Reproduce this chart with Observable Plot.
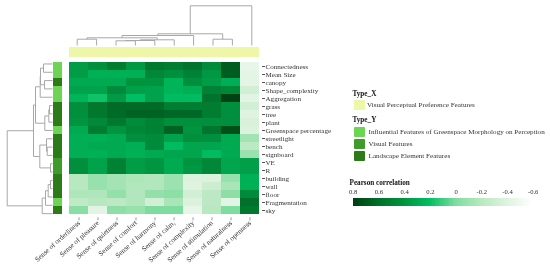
<!DOCTYPE html>
<html>
<head>
<meta charset="utf-8">
<script src="https://cdn.jsdelivr.net/npm/d3@7"></script>
<script src="https://cdn.jsdelivr.net/npm/@observablehq/plot@0.6"></script>
<style>
html,body{margin:0;padding:0;background:#fff}
#chart{position:relative;width:550px;height:268px;overflow:hidden;font-family:"Liberation Serif",serif;color:#333;filter:blur(.35px)}
#chart svg{position:absolute;left:0;top:0;background:transparent;max-width:none}
.lg{position:absolute;white-space:nowrap;font-size:7.1px;line-height:10px}
.lt{font-weight:bold;color:#111;font-size:7.2px}
.sw{position:absolute;width:11px;height:10.4px;border-radius:1px}
</style>
</head>
<body>
<div id="chart"></div>
<script>
const columns = ["Sense of orderliness","Sense of pleasure","Sense of quietness","Sense of comfort","Sense of harmony","Sense of calm,","Sense of complexity","Sense of stimulation","Sense of naturalness","Sense of openness"];
const rows = ["Connectedness","Mean Size","canopy","Shape_complexity","Aggregation","grass","tree","plant","Greenspace percentage","streetlight","bench","signboard","VE","R","building","wall","floor","Fragmentation","sky"];
const values = [
 [.36,.43,.53,.38,.55,.53,.58,.45,.68,-.45],
 [.36,.27,.27,.27,.47,.43,.50,.38,.68,-.43],
 [.30,.30,.30,.40,.40,.25,.43,.36,.28,-.43],
 [.33,.33,.45,.35,.33,.25,.28,.50,.47,-.33],
 [.25,.18,.37,.20,.33,.22,.22,.58,.78,-.42],
 [.42,.55,.62,.62,.62,.52,.52,.53,.42,-.33],
 [.42,.55,.62,.65,.65,.63,.63,.53,.42,-.40],
 [.40,.46,.55,.45,.50,.43,.43,.42,.42,-.37],
 [.30,.53,.40,.48,.50,.65,.40,.57,.73,-.38],
 [.28,.28,.30,.42,.45,.33,.42,.42,.30,-.12],
 [.28,.30,.30,.28,.45,.22,.32,.32,.30,-.22],
 [.28,.27,.30,.27,.30,.32,.32,.22,.30,-.10],
 [.43,.33,.50,.36,.39,.30,.40,.47,.32,.35],
 [.43,.33,.50,.36,.39,.30,.38,.47,.32,.35],
 [-.20,-.08,-.13,-.16,-.18,-.10,-.38,-.38,-.08,.27],
 [-.20,-.08,-.13,-.18,-.18,-.10,-.40,-.30,-.15,.27],
 [-.16,-.17,-.07,-.18,-.07,-.05,-.33,-.22,-.05,.45],
 [-.23,-.20,-.22,-.18,-.33,-.15,-.38,-.22,-.42,.60],
 [-.03,-.42,-.05,-.08,0,0,-.45,-.20,0,.55]
];
const typeNames = ["Influential Features of Greenspace Morphology on Perception","Visual Features","Landscape Element Features"];
const typeColors = ["#6dd454","#3f9b2a","#2c7a18"];
const rowTypes = [0,0,2,0,0,2,2,2,0,2,2,2,1,1,2,2,2,0,2];
const typeXName = "Visual Perceptual Preference Features";
const typeXColor = "#eef7a8";
const colorDomain = [-.6,-.4,-.2,0,.2,.4,.6,.8];
const colorRange = ["#ffffff","#dff3e0","#b8e8c0","#7fdc9f","#00bf63","#00943f","#00702a","#003d10"];
const legendTicks = [.8,.6,.4,.2,0,-.2,-.4,-.6];
// merges: [left, right, height]; a value >=0 is a leaf index, a value <0 is -(1-based merge number)
const topMerges = [[0,1,6.3],[2,3,4.7],[-2,4,5],[-3,5,5.7],[-1,-4,7.7],[-5,6,10],[7,8,6.3],[-6,-7,11.7],[-8,9,39.7]];
const leftMerges = [[0,1,9],[2,3,8],[-1,-2,12],[-3,4,12.3],[5,6,3],[-5,7,3.7],[-6,8,7.7],[-4,-7,17],[10,11,5.3],[9,-9,6],[12,13,2],[-10,-11,12.7],[-8,-12,19],[14,15,2],[-14,16,4.3],[-15,17,7],[-16,18,10.3],[-13,-17,45.3]];

const FONT = "Liberation Serif";
const chart = document.getElementById("chart");
const X0 = 67, X1 = 261, Y0 = 59.3, Y1 = 217.3;
const base = {width:550,height:268,marginTop:0,marginBottom:0,marginLeft:0,marginRight:0,
  style:{background:"transparent",fontFamily:FONT}};

function segments(merges){
  const nodes = [], segs = [];
  const get = c => c >= 0 ? {p:c+.5,h:0} : nodes[-c-1];
  for (const [a,b,h] of merges){
    const A = get(a), B = get(b);
    segs.push({p1:A.p,h1:A.h,p2:A.p,h2:h},{p1:A.p,h1:h,p2:B.p,h2:h},{p1:B.p,h1:h,p2:B.p,h2:B.h});
    nodes.push({p:(A.p+B.p)/2,h});
  }
  return segs;
}
const cells = rows.flatMap((r,i)=>columns.map((c,j)=>({r,c,v:values[i][j]})));

// heatmap and axes
chart.append(Plot.plot({...base,
  marginLeft:X0,marginRight:550-X1,marginTop:Y0,marginBottom:268-Y1,
  x:{type:"band",domain:columns,padding:0,label:null},
  y:{type:"band",domain:rows,padding:0,label:null},
  color:{type:"linear",domain:colorDomain,range:colorRange},
  marks:[
    Plot.cell(cells,{x:"c",y:"r",fill:"v",shapeRendering:"crispEdges"}),
    Plot.axisY({anchor:"right",tickSize:3,tickPadding:1,fontSize:7.1,label:null,stroke:"#555",fill:"#333"}),
    Plot.axisX({anchor:"bottom",tickSize:3,tickPadding:1,tickRotate:-42,fontSize:7.2,label:null,stroke:"#999",fill:"#333"})
  ]}));

// Type_Y strip
chart.append(Plot.plot({...base,
  marginLeft:53,marginRight:550-62.3,marginTop:Y0,marginBottom:268-Y1,
  x:{type:"band",domain:["Type_Y"],padding:0,axis:null},
  y:{type:"band",domain:rows,padding:0,axis:null},
  marks:[Plot.cell(rows.map((r,i)=>({r,k:"Type_Y",t:rowTypes[i]})),{x:"k",y:"r",fill:d=>typeColors[d.t],shapeRendering:"crispEdges"})]}));

// Type_X strip
chart.append(Plot.plot({...base,
  marginLeft:69,marginRight:550-259,marginTop:47.3,marginBottom:268-57.3,
  x:{type:"band",domain:columns,padding:0,axis:null},
  y:{type:"band",domain:["Type_X"],padding:0,axis:null},
  marks:[Plot.cell(columns.map(c=>({c,k:"Type_X"})),{x:"c",y:"k",fill:typeXColor,shapeRendering:"crispEdges"})]}));

// top dendrogram
chart.append(Plot.plot({...base,
  x:{type:"linear",domain:[0,10],range:[X0,X1],axis:null},
  y:{type:"linear",domain:[0,45],range:[45,0],axis:null},
  marks:[Plot.link(segments(topMerges),{x1:"p1",y1:"h1",x2:"p2",y2:"h2",stroke:"#a8a8a8",strokeWidth:1})]}));

// left dendrogram
chart.append(Plot.plot({...base,
  x:{type:"linear",domain:[0,52],range:[52,0],axis:null},
  y:{type:"linear",domain:[0,19],range:[Y0,Y1],axis:null},
  marks:[Plot.link(segments(leftMerges),{x1:"h1",y1:"p1",x2:"h2",y2:"p2",stroke:"#a8a8a8",strokeWidth:1})]}));

// colour legend bar
chart.append(Plot.plot({...base,
  marginLeft:352.7,marginRight:550-532.7,marginTop:197.7,marginBottom:268-205.7,
  x:{type:"linear",domain:[.8,-.6],axis:null},
  y:{type:"linear",domain:[0,1],axis:null},
  color:{type:"linear",domain:colorDomain,range:colorRange},
  marks:[
    Plot.rect(d3.range(0,140),{x1:i=>.8-i/100,x2:i=>.8-(i+1.5)/100,y1:0,y2:1,fill:i=>.8-(i+.5)/100,inset:0,shapeRendering:"crispEdges"}),
    Plot.axisX({anchor:"top",ticks:legendTicks,tickSize:0,tickPadding:4.5,fontSize:6.6,tickFormat:d=>String(d),label:null,fill:"#333"})
  ]}));

// categorical legend
function add(cls,text,x,y,bg){
  const d=document.createElement("div");d.className=cls;d.style.left=x+"px";d.style.top=y+"px";
  if(text)d.textContent=text; if(bg)d.style.background=bg; chart.append(d);
}
add("lg lt","Type_X",352.5,89);
add("sw","",353.5,99.5,typeXColor);
add("lg",typeXName,367,99.5);
add("lg lt","Type_Y",352.5,115);
typeNames.forEach((n,i)=>{
  const y=126.7+i*11.9;
  add("sw","",353.5,y,typeColors[i]);
  add("lg",n,368.6,y+.3);
});
add("lg lt","Pearson correlation",349.5,178);
</script>
</body>
</html>
